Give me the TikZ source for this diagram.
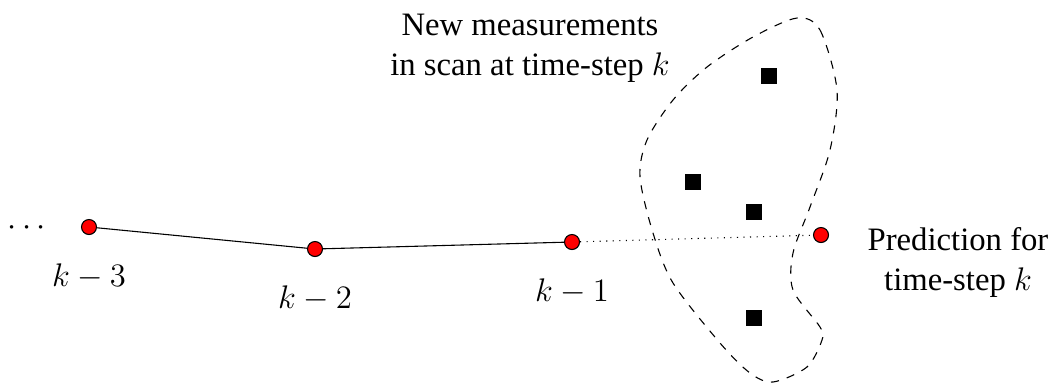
\documentclass[tikz,border=0pt]{standalone}
\usepackage{fontspec}
\setmainfont{Liberation Serif}
\usetikzlibrary{positioning}

\begin{document}
\begin{tikzpicture}[x=0.367pt, y=-0.367pt, font=\fontsize{12}{14.7}\selectfont]
        % Style definitions
        \tikzstyle{state} = [draw, fill=red, circle, inner sep=0pt, minimum size=5.5pt]
        \tikzstyle{meas} = [fill=black, rectangle, inner sep=0pt, minimum size=5.9pt]
        \tikzstyle{note} = [align=center, inner sep=0pt]
        \useasboundingbox (0,0) rectangle (1049,383);

        % Track nodes
        \node (dots) at (27,228) {$\cdots$};
        \node [state] (km3) at (89,227) {};
        \node [state] (km2) at (315,249) {};
        \node [state] (km1) at (572,242) {};
        \node [state] (pred) at (821,235) {};
        \node [below=7pt of km3] (lkm3) {$k-3$};
        \node [below=7pt of km2] (lkm2) {$k-2$};
        \node [below=7pt of km1] (lkm1) {$k-1$};

        % Measurements
        \node [meas] (m1) at (769,76) {};
        \node [meas] (m2) at (693,182) {};
        \node [meas] (m3) at (754,212) {};
        \node [meas] (m4) at (754,318) {};

        % Gate around the measurements
        \draw [dashed] plot [smooth cycle] coordinates {(797,18) (820,30) (837,90) (830,150) (810,207) (793,253) (793,290) (820,327) (822,340) (807,367) (773,382) (750,373) (720,343) (673,283) (653,233) (640,177) (647,140) (673,100) (707,67) (753,37)};

        % Labels
        \node [note] (newmeas) at (530,48) {New measurements\\ in scan at time-step $k$};
        \node [note] (predlabel) at (958,262) {Prediction for\\ time-step $k$};

        % Lines
        \draw (km3) -- (km2);
        \draw (km2) -- (km1);
        \draw [dotted] (km1) -- (pred);
\end{tikzpicture}
\end{document}
